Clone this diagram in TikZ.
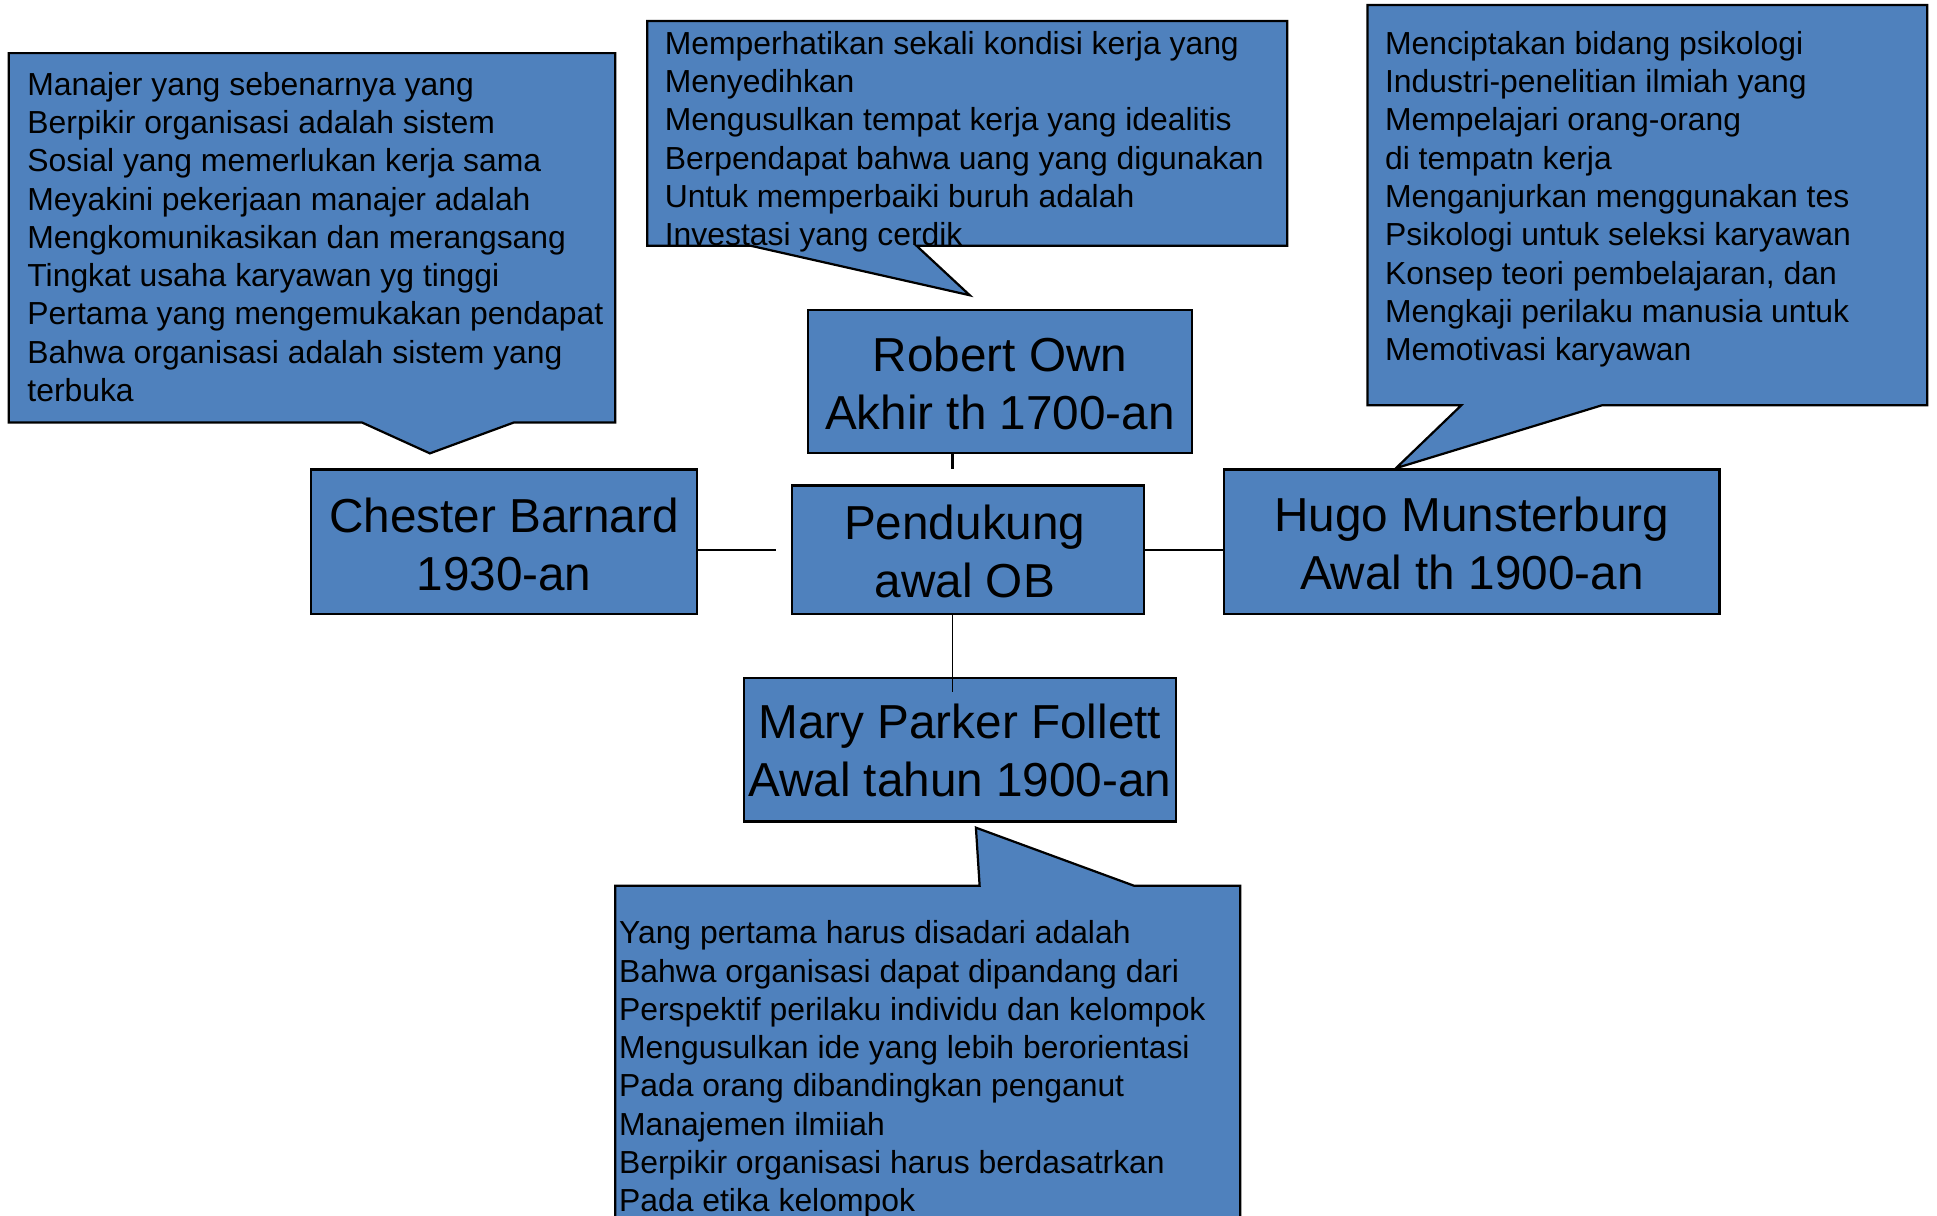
\documentclass[tikz,border=0pt]{standalone}
\usepackage{fontspec}
\setmainfont{Liberation Sans}
\usetikzlibrary{calc}
\definecolor{boxblue}{RGB}{79,129,189}
% two centred lines, baseline at the first line
\newcommand{\twoline}[2]{\parbox[t]{420pt}{\centering #1\\#2}}
% left-aligned note text, baseline at the first line
\newcommand{\notelines}[1]{\parbox[t]{600pt}{\raggedright #1}}
\begin{document}
\begin{tikzpicture}[x=1pt,y=-1pt,
  callout/.style={draw=black, fill=boxblue, line width=1.8pt, line join=miter},
  titlebox/.style={draw=black, fill=boxblue, line width=1.8pt, inner sep=0pt},
  titletext/.style={anchor=base, inner sep=0pt, font=\fontsize{38.6}{47}\selectfont},
  notetext/.style={anchor=base west, inner sep=0pt, font=\fontsize{25.8}{31}\selectfont},
  conn/.style={draw=black, line width=1.8pt}]
\useasboundingbox (0,0) rectangle (1568,984);
\clip (0,0) rectangle (1568,984);

% speech bubbles
\draw[callout] (7,43) -- (498,43) -- (498,342) -- (416,342) -- (348,367) -- (293,342) -- (7,342) -- cycle;
\draw[callout] (524,17) -- (1042,17) -- (1042,199) -- (742,199) -- (785,239) -- (608,199) -- (524,199) -- cycle;
\draw[callout] (1107,4) -- (1560,4) -- (1560,328) -- (1297,328) -- (1130,379) -- (1183,328) -- (1107,328) -- cycle;
\draw[callout] (498,717) -- (793,717) -- (790,670) -- (918,717) -- (1004,717) -- (1004,1010) -- (498,1010) -- cycle;

\node[notetext] (barnard-note) at (22,77) {\notelines{Manajer yang sebenarnya yang\\
Berpikir organisasi adalah sistem\\
Sosial yang memerlukan kerja sama\\
Meyakini pekerjaan manajer adalah\\
Mengkomunikasikan dan merangsang\\
Tingkat usaha karyawan yg tinggi\\
Pertama yang mengemukakan pendapat\\
Bahwa organisasi adalah sistem yang\\
terbuka}};

\node[notetext] (owen-note) at (538,44) {\notelines{Memperhatikan sekali kondisi kerja yang\\
Menyedihkan\\
Mengusulkan tempat kerja yang idealitis\\
Berpendapat bahwa uang yang digunakan\\
Untuk memperbaiki buruh adalah\\
Investasi yang cerdik}};

\node[notetext] (hugo-note) at (1121,44) {\notelines{Menciptakan bidang psikologi\\
Industri-penelitian ilmiah yang\\
Mempelajari orang-orang\\
di tempatn kerja\\
Menganjurkan menggunakan tes\\
Psikologi untuk seleksi karyawan\\
Konsep teori pembelajaran, dan\\
Mengkaji perilaku manusia untuk\\
Memotivasi karyawan}};

\node[notetext] (follett-note) at (501,764) {\notelines{Yang pertama harus disadari adalah\\
Bahwa organisasi dapat dipandang dari\\
Perspektif perilaku individu dan kelompok\\
Mengusulkan ide yang lebih berorientasi\\
Pada orang dibandingkan penganut\\
Manajemen ilmiiah\\
Berpikir organisasi harus berdasatrkan\\
Pada etika kelompok}};

% name boxes
\node[titlebox, minimum width=311pt, minimum height=116pt] (owen) at (809.5,309) {};
\node[titlebox, minimum width=285pt, minimum height=104pt] (ob) at (783.5,445) {};
\node[titlebox, minimum width=312pt, minimum height=117pt] (barnard) at (408,438.5) {};
\node[titlebox, minimum width=401pt, minimum height=117pt] (hugo) at (1191.5,438.5) {};
\node[titlebox, minimum width=350pt, minimum height=116pt] (follett) at (777,607) {};

\node[titletext] (owen-t) at (809.5,301) {\twoline{Robert Own}{Akhir th 1700-an}};
\node[titletext] (ob-t) at (781,437) {\twoline{Pendukung}{awal OB}};
\node[titletext] (barnard-t) at (408,431) {\twoline{Chester Barnard}{1930-an}};
\node[titletext] (hugo-t) at (1191.5,430) {\twoline{Hugo Munsterburg}{Awal th 1900-an}};
\node[titletext] (follett-t) at (777,598) {\twoline{Mary Parker Follett}{Awal tahun 1900-an}};

% connectors
\coordinate (owen-end) at (771,380);
\coordinate (barnard-end) at (628,445);
\coordinate (follett-end) at (771,560);
\coordinate (mid) at (0,445);
\draw[conn] (owen-end |- owen.south) -- (owen-end);
\draw[conn] (barnard.east |- mid) -- (barnard-end);
\draw[conn] (ob.east |- mid) -- (hugo.west |- mid);
\draw[draw=black, line width=1.4pt] (follett-end |- ob.south) -- (follett-end);
\end{tikzpicture}
\end{document}
